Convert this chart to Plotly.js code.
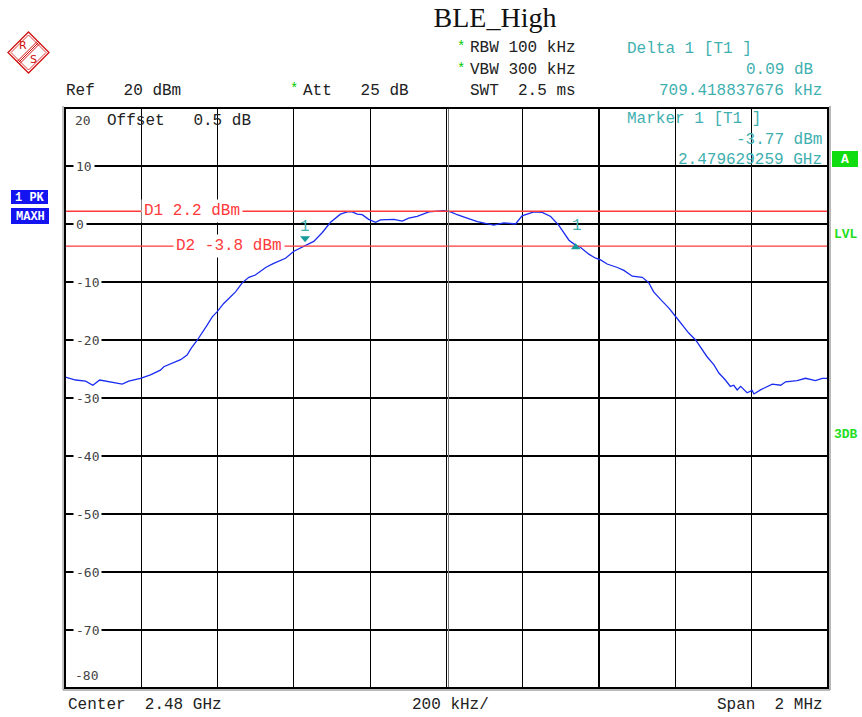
<!DOCTYPE html>
<html><head><meta charset="utf-8">
<script src="https://cdn.plot.ly/plotly-3.0.1.min.js"></script>
<style>html,body{margin:0;padding:0;background:#fff}#chart{width:862px;height:717px}</style>
</head><body><div id="chart"></div>
<script>
// ---- data ----
const freqMHz = [
 2479.001,2479.028,2479.054,2479.073,2479.091,2479.119,2479.150,2479.167,2479.198,2479.224,
 2479.250,2479.259,2479.281,2479.303,2479.320,2479.331,2479.347,2479.360,2479.373,2479.386,
 2479.399,2479.416,2479.434,2479.447,2479.465,2479.482,2479.499,2479.517,2479.526,2479.547,
 2479.565,2479.578,2479.600,2479.629,2479.652,2479.674,2479.696,2479.722,2479.740,2479.753,
 2479.766,2479.779,2479.796,2479.814,2479.827,2479.862,2479.884,2479.901,2479.923,2479.954,
 2479.993,2480.011,2480.028,2480.054,2480.081,2480.102,2480.124,2480.150,2480.181,2480.198,
 2480.229,2480.251,2480.273,2480.294,2480.307,2480.321,2480.339,2480.351,2480.373,2480.391,
 2480.404,2480.421,2480.448,2480.465,2480.487,2480.513,2480.530,2480.543,2480.561,2480.583,
 2480.600,2480.618,2480.635,2480.653,2480.666,2480.682,2480.701,2480.714,2480.731,2480.744,
 2480.753,2480.762,2480.771,2480.788,2480.801,2480.806,2480.823,2480.841,2480.854,2480.876,
 2480.889,2480.919,2480.941,2480.967,2480.985,2480.998];
const levelDbm = [
 -26.4,-26.9,-27.1,-27.8,-26.9,-27.2,-27.6,-27.1,-26.6,-26.0,
 -25.2,-24.6,-24.0,-23.4,-22.6,-21.4,-20.0,-18.8,-17.4,-16.0,
 -15.1,-13.7,-12.5,-11.7,-10.1,-9.2,-8.8,-8.0,-7.5,-6.8,
 -6.2,-5.9,-4.7,-3.77,-3.0,-1.5,0.3,1.7,2.1,2.1,
 1.7,1.6,0.8,0.3,0.7,0.8,0.5,1.0,1.3,2.1,
 2.3,2.1,1.6,1.0,0.4,0.1,-0.2,0.2,0.0,1.4,
 2.1,2.0,1.3,-0.2,-1.5,-2.8,-3.68,-4.0,-5.2,-5.9,
 -6.2,-6.9,-7.5,-8.0,-9.0,-9.2,-10.1,-11.7,-13.0,-14.5,
 -15.9,-17.4,-18.8,-20.0,-21.2,-22.8,-24.3,-25.7,-26.9,-28.0,
 -27.8,-28.6,-28.0,-29.1,-28.7,-29.3,-28.6,-28.0,-27.6,-27.8,
 -27.2,-27.0,-26.6,-27.0,-26.6,-26.6];
const startMHz = 2479, stopMHz = 2481, freqDivMHz = 0.2;
const bottomDbm = -80, refDbm = 20, dbPerDiv = 10;
const yTickLabels = [10,0,-10,-20,-30,-40,-50,-60,-70];
const topLabel = '20', bottomLabel = '-80';
const displayLine1 = 2.2, displayLine2 = -3.8;
const marker1Freq = 2479.629259, marker1Level = -3.77;
const delta1OffsetMHz = 0.709418837676, delta1Db = 0.09;
const delta1Freq = marker1Freq + delta1OffsetMHz, delta1Level = marker1Level + delta1Db;

// ---- page geometry ----
const L = 65, R = 828, T = 108, B = 688;
const px = x => (x - L) / (R - L);
const py = y => (B - y) / (B - T);
const MONO = 'Liberation Mono';
const DARK = '#222', TEAL = '#3fb0b0', TEALD = '#169a9a', RED = '#ff3a3a', GREEN = '#22dd22', BLUE = '#1414f0';

function txt(text, x, y, anchor, font, extra) {
  return Object.assign({xref:'paper', yref:'paper', x:px(x), y:py(y), xanchor:anchor, yanchor:'middle',
    text:text, showarrow:false, borderpad:0, font:font}, extra || {});
}
const f16 = c => ({family:MONO, size:16, color:c});

function absPath(pts, close) {
  return 'M' + pts.map(p => (p[0]-L).toFixed(2) + ',' + (T-p[1]).toFixed(2)).join('L') + (close ? 'Z' : '');
}
function pxShape(path, line, fill) {
  return {type:'path', xref:'paper', yref:'paper', xsizemode:'pixel', ysizemode:'pixel', xanchor:0, yanchor:1,
    path:path, line:line, fillcolor:fill || 'rgba(0,0,0,0)', layer:'above'};
}
function relShape(xv, yv, pts, color) {
  return {type:'path', xref:'x', yref:'y', xsizemode:'pixel', ysizemode:'pixel', xanchor:xv, yanchor:yv,
    path:'M' + pts.map(p => p[0] + ',' + p[1]).join('L') + 'Z', line:{width:0}, fillcolor:color, layer:'above'};
}

const trace = {x:freqMHz, y:levelDbm, type:'scatter', mode:'lines',
  line:{color:'#1a2cf0', width:1.3}, hoverinfo:'skip'};

const shapes = [
  // display lines
  {type:'line', xref:'paper', x0:0, x1:1, yref:'y', y0:displayLine1, y1:displayLine1, line:{color:RED, width:1.3}},
  {type:'line', xref:'paper', x0:0, x1:1, yref:'y', y0:displayLine2, y1:displayLine2, line:{color:RED, width:1.3}},
  // second centre line (double)
  pxShape(absPath([[448.5,108],[448.5,688]]), {color:'#777', width:1}),
  // frame
  {type:'rect', xref:'paper', yref:'paper', x0:0, x1:1, y0:0, y1:1, line:{color:'#000', width:2}, layer:'above'},
  pxShape(absPath([[63,106],[63,690]]), {color:'#888', width:1}),
  pxShape(absPath([[63,690],[830,690]]), {color:'#777', width:1.2}),
  pxShape(absPath([[830,106],[830,690]]), {color:'#888', width:1.2}),
  // R&S logo
  pxShape(absPath([[28.5,32],[49,52.5],[28.5,73],[8,52.5]], true), {color:'#d01010', width:1.3}),
  pxShape(absPath([[28.5,35],[46,52.5],[28.5,70],[11,52.5]], true), {color:'#d01010', width:0.8}),
  pxShape(absPath([[17.3,61.3],[37.3,41.3]]), {color:'#d01010', width:1}),
  pxShape(absPath([[18.5,62.5],[38.5,42.5]]), {color:'#d01010', width:1}),
  pxShape(absPath([[19.7,63.7],[39.7,43.7]]), {color:'#d01010', width:1}),
  // trace info boxes
  pxShape(absPath([[11,190],[48,190],[48,204],[11,204]], true), {width:0}, BLUE),
  pxShape(absPath([[11,208],[49,208],[49,224],[11,224]], true), {width:0}, BLUE),
  pxShape(absPath([[832,151],[858,151],[858,167],[832,167]], true), {width:0}, '#10dd10'),
  // marker symbols
  relShape(marker1Freq, marker1Level, [[-5,9.5],[5,9.5],[0,3.5]], TEALD),
  relShape(delta1Freq, delta1Level, [[-4.8,-4],[4.8,-4],[0,2]], TEALD)
];

const annotations = [
  // header
  txt('Ref   20 dBm', 65, 91, 'left', f16(DARK)),
  txt('*', 466, 47, 'right', {family:MONO, size:14, color:'#00cc00'}),
  txt('RBW 100 kHz', 469, 48, 'left', f16(DARK)),
  txt('*', 466, 69, 'right', {family:MONO, size:14, color:'#00cc00'}),
  txt('VBW 300 kHz', 469, 70, 'left', f16(DARK)),
  txt('SWT  2.5 ms', 469, 91, 'left', f16(DARK)),
  txt('*', 299, 89, 'right', {family:MONO, size:14, color:'#00cc00'}),
  txt('Att   25 dB', 302, 91, 'left', f16(DARK)),
  txt('Delta 1 [T1 ]', 626, 49, 'left', f16(TEAL)),
  txt(delta1Db.toFixed(2) + ' dB', 814, 70, 'right', f16(TEAL)),
  txt((delta1OffsetMHz*1000).toFixed(9) + ' kHz', 823, 91, 'right', f16(TEAL)),
  txt('Marker 1 [T1 ]', 626, 119, 'left', f16(TEAL)),
  txt(marker1Level.toFixed(2) + ' dBm', 823, 140, 'right', f16(TEAL)),
  txt((marker1Freq/1000).toFixed(9) + ' GHz', 823, 160, 'right', f16(TEAL)),
  txt('Offset   0.5 dB', 106, 121, 'left', f16(DARK)),
  txt(topLabel, 74, 120, 'left', {family:'DejaVu Sans Mono', size:13, color:'#444'}),
  txt(bottomLabel, 74, 675, 'left', {family:'DejaVu Sans Mono', size:13, color:'#444'}),
  // side boxes
  txt('<b>1 PK</b>', 29.5, 197.5, 'center', {family:MONO, size:12, color:'#fff'}),
  txt('<b>MAXH</b>', 30, 216.5, 'center', {family:MONO, size:12, color:'#fff'}),
  txt('<b>A</b>', 845, 159.5, 'center', {family:MONO, size:13, color:'#fff'}),
  txt('<b>LVL</b>', 833, 234, 'left', {family:MONO, size:13, color:GREEN}),
  txt('<b>3DB</b>', 833, 434, 'left', {family:MONO, size:13, color:GREEN}),
  // logo letters
  txt('R', 22.5, 45.5, 'center', {family:'DejaVu Sans', size:11, color:'#d01010'}),
  txt('S', 33.5, 59.5, 'center', {family:'DejaVu Sans', size:11, color:'#d01010'}),
  // footer
  txt('Center  2.48 GHz', 67, 705, 'left', f16(DARK)),
  txt((freqDivMHz*1000) + ' kHz/', 450, 705, 'center', f16(DARK)),
  txt('Span  ' + (stopMHz-startMHz) + ' MHz', 824, 705, 'right', f16(DARK)),
  // display line labels
  {xref:'paper', yref:'y', x:px(141), y:displayLine1, xanchor:'left', yanchor:'middle', showarrow:false,
    text:'D1 ' + displayLine1 + ' dBm', bgcolor:'#fff', borderpad:2, font:f16(RED)},
  {xref:'paper', yref:'y', x:px(173), y:displayLine2, xanchor:'left', yanchor:'middle', showarrow:false,
    text:'D2 ' + displayLine2 + ' dBm', bgcolor:'#fff', borderpad:2, font:f16(RED)},
  // marker numbers
  {xref:'x', yref:'y', x:marker1Freq, y:marker1Level, yshift:19, showarrow:false, text:'1', font:f16(TEAL)},
  {xref:'x', yref:'y', x:delta1Freq, y:delta1Level, xshift:1.5, yshift:19.5, showarrow:false, text:'1', font:f16(TEAL)}
];
yTickLabels.forEach(v => annotations.push({xref:'paper', yref:'y', x:px(73), y:v, xanchor:'left', yanchor:'middle',
  showarrow:false, text:String(v), bgcolor:'#fff', borderpad:2, font:{family:'DejaVu Sans Mono', size:13, color:'#444'}}));

const layout = {
  width:862, height:717,
  margin:{l:L, r:862-R, t:T, b:717-B, pad:0},
  paper_bgcolor:'#fff', plot_bgcolor:'#fff',
  showlegend:false,
  title:{text:'BLE_High', font:{family:'Liberation Serif', size:28, color:'#111'},
    x:495/862, xanchor:'center', xref:'container', y:1-17/717, yanchor:'middle', yref:'container'},
  xaxis:{range:[startMHz, stopMHz], tick0:startMHz, dtick:freqDivMHz, showgrid:true, gridcolor:'#000', gridwidth:1.2,
    showticklabels:false, ticks:'', zeroline:false, showline:false, fixedrange:true},
  yaxis:{range:[bottomDbm, refDbm], tick0:0, dtick:dbPerDiv, showgrid:true, gridcolor:'#000', gridwidth:1.2,
    showticklabels:false, ticks:'', zeroline:false, showline:false, fixedrange:true},
  shapes:shapes, annotations:annotations
};
Plotly.newPlot('chart', [trace], layout, {displayModeBar:false, staticPlot:true});
</script></body></html>
